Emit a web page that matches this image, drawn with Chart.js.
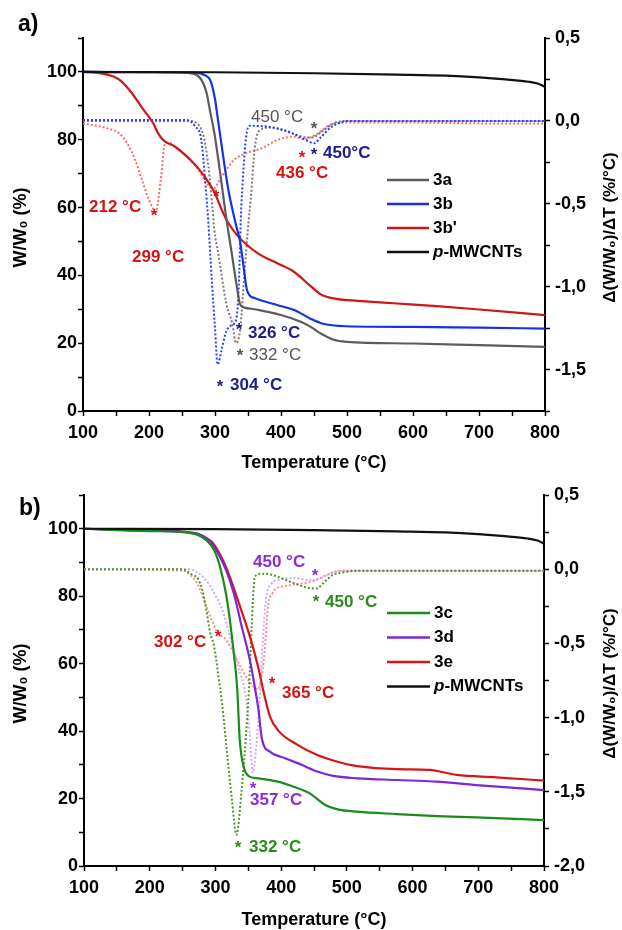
<!DOCTYPE html>
<html><head><meta charset="utf-8">
<script src="https://cdn.jsdelivr.net/npm/chart.js@4.4.0/dist/chart.umd.min.js"></script>
<style>
html,body{margin:0;padding:0;background:#fff;}
#wrap{position:relative;width:622px;height:930px;background:#fff;}
canvas{position:absolute;left:0;}
#ca{top:0;} #cb{top:465px;}
</style></head><body>
<div id="wrap"><canvas id="ca" width="622" height="480" style="width:622px;height:480px"></canvas><canvas id="cb" width="622" height="465" style="width:622px;height:465px"></canvas></div>
<script>
// ---------- DATA ----------
// p-MWCNTs (same sample in both panels)
const pT = [100,300,450,576,650,700,740,775,790,800];
const pW = [100,99.9,99.6,99.2,98.9,98.4,97.8,97.1,96.5,95.6];

// Panel a: TGA (W/W0 %)
const aT3a = [100,200,250,270,280,287,293,299,308,317,325,332,338,345,360,400,430,445,460,480,500,600,700,800];
const aW3a = [100,99.9,99.8,99.3,97.5,94,88,82,70,57,47,38,31.5,30.5,30,28.3,26.3,24.8,22.9,21,20.4,19.9,19.4,18.9];
const aT3b = [100,200,270,285,293,300,303,311,320,328,333,338,343,348,353,360,395,420,444,462,498,600,700,800];
const aW3b = [100,99.9,99.8,99,97.5,92,88,77,65.5,58,54,50,43,36,34,33.3,31.2,29.8,27.3,25.8,25,24.8,24.6,24.3];
const aT3bp = [100,120,137,155,173,191,206,215,224,239,263,281,299,311,320,335,365,395,420,444,462,486,516,576,636,696,800];
const aW3bp = [100,99.8,99.2,97.7,94,89,85,81.5,79.5,78,74,70,64.5,59,55.5,51.5,46.5,43.5,41,37,34.2,33,32.5,31.7,30.9,30,28.3];
// Panel a: DTG (%/°C)
const aTd3a = [100,200,260,275,284,290,296,299,305,317,326,332,338,345,351,354,360,366,384,408,432,447,462,480,498,600,700,800];
const aD3a  = [0,0,0,-0.024,-0.114,-0.276,-0.518,-0.66,-0.80,-1.10,-1.22,-1.34,-1.26,-0.90,-0.60,-0.48,-0.175,-0.064,-0.04,-0.064,-0.095,-0.10,-0.064,-0.014,0,0,0,0];
const aTd3b = [100,200,257,270,279,285,290,295,300,304,310,317,326,332,336,339,343,347,352,360,400,420,440,450,460,475,490,500,600,800];
const aD3b  = [0.005,0.005,0.005,-0.034,-0.11,-0.356,-0.62,-0.95,-1.25,-1.47,-1.38,-1.27,-1.23,-1.2,-1.0,-0.6,-0.3,-0.1,-0.03,-0.03,-0.05,-0.08,-0.12,-0.135,-0.10,-0.04,-0.01,0,0,0];
const aTd3bp = [100,137,155,167,179,191,200,205,210,218,224,230,239,257,275,287,299,305,317,329,347,371,395,420,432,441,456,474,498,600,700,800];
const aD3bp  = [-0.015,-0.045,-0.075,-0.135,-0.235,-0.376,-0.477,-0.52,-0.55,-0.35,-0.14,-0.13,-0.155,-0.215,-0.296,-0.376,-0.406,-0.37,-0.296,-0.235,-0.195,-0.165,-0.114,-0.095,-0.11,-0.105,-0.075,-0.024,-0.01,-0.01,-0.015,-0.015];

// Panel b: TGA
const bT3c = [100,150,200,250,274,286,298,307,316,322,328,333,337,343,352,365,395,419,443,467,486,516,576,637,697,800];
const bW3c = [100,99.6,99.3,99,98.1,96.6,93.7,88.7,80.8,72.9,63,53,37.4,29.4,26.5,26,25,23.5,21.6,18.1,16.8,16.1,15.4,14.8,14.4,13.6];
const bT3d = [100,150,200,250,274,286,298,316,328,340,352.5,361.5,365,371,383,407,431,455,479,516,576,637,697,800];
const bW3d = [100,99.7,99.4,99.1,98.4,97.2,94.7,87.8,80.8,71,61,51.2,47,37.4,33.9,31.9,30,28,26.7,26,25.5,25,24,22.5];
const bT3e = [100,150,200,250,274,286,298,316,334,352.5,365,374,383,395,425,455,486,516,576,625,667,727,800];
const bW3e = [100,99.7,99.4,99.1,98.4,97.3,95.3,88.7,78.9,68,59,51,44.3,40.3,35.9,32.9,30.9,29.6,28.7,28.5,27,26.3,25.3];
// Panel b: DTG
const bTd3c = [100,200,250,262,274,280,286,292,298,304,310,318,325,332,340,346,351,355,360,370,383,400,420,440,454,465,478,490,520,800];
const bD3c  = [0,0,0,-0.03,-0.07,-0.14,-0.27,-0.43,-0.52,-0.70,-0.9,-1.25,-1.55,-1.79,-1.48,-1.15,-0.81,-0.4,-0.05,-0.03,-0.035,-0.06,-0.095,-0.125,-0.13,-0.09,-0.04,-0.025,-0.01,-0.01];
const bTd3d = [100,260,275,290,298,310,322,334,346,352,357,362,367,372,377,385,398,420,445,460,480,500,800];
const bD3d  = [0,0,-0.03,-0.1,-0.16,-0.27,-0.45,-0.65,-0.85,-1.1,-1.37,-1.2,-0.9,-0.5,-0.2,-0.1,-0.07,-0.06,-0.075,-0.06,-0.02,-0.01,-0.01];
const bTd3e = [100,250,262,274,286,296,304,315,325,335,346,358,365,371,375,380,387,393,410,425,449,469,490,800];
const bD3e  = [0,-0.01,-0.04,-0.11,-0.25,-0.36,-0.43,-0.47,-0.54,-0.63,-0.72,-0.79,-0.81,-0.7,-0.55,-0.25,-0.16,-0.13,-0.11,-0.10,-0.08,-0.04,-0.01,-0.01];

// Axis tick ranges
const xMin = 100, xMax = 800;
const wMin = 0, wMax = 110;
const aDMin = -1.75, bDMin = -2.0, dMax = 0.5;

// ---------- helpers ----------
const FONT = '"Liberation Sans", Arial, sans-serif';
const pts = (xs, ys) => xs.map((x, i) => ({x: x, y: ys[i]}));
function solid(label, xs, ys, color) {
  return {label, data: pts(xs, ys), yAxisID: 'yL', borderColor: color, borderWidth: 2.2,
    pointRadius: 0, fill: false, cubicInterpolationMode: 'monotone'};
}
function dotted(label, xs, ys, color) {
  return {label, data: pts(xs, ys), yAxisID: 'yR', borderColor: color, borderWidth: 2,
    borderDash: [2, 2], pointRadius: 0, fill: false, cubicInterpolationMode: 'monotone'};
}

const deco = {
  id: 'deco',
  afterDraw(chart, args, o) {
    const ctx = chart.ctx, a = chart.chartArea;
    ctx.save();
    ctx.fillStyle = '#000';
    ctx.textBaseline = 'middle';
    // panel letter
    ctx.textAlign = 'left';
    ctx.font = 'bold 23px ' + FONT;
    ctx.fillText(o.letter, o.letterX, o.letterY);
    // axis titles
    ctx.font = 'bold 18px ' + FONT;
    ctx.textAlign = 'center';
    ctx.fillText('Temperature (°C)', (a.left + a.right) / 2, o.xTitleY);
    const cy = (a.top + a.bottom) / 2 + 3;
    ctx.save(); ctx.translate(21, cy); ctx.rotate(-Math.PI / 2);
    ctx.fillText('W/W\u2080 (%)', 0, 0); ctx.restore();
    ctx.save(); ctx.translate(610, cy); ctx.rotate(-Math.PI / 2);
    ctx.font = 'bold 17px ' + FONT;
    ctx.fillText('\u0394(W/W\u2080)/\u0394T (%/°C)', 0, 0); ctx.restore();
    // legend
    ctx.font = 'bold 17px ' + FONT;
    ctx.textAlign = 'left';
    o.legend.forEach((it, i) => {
      const y = o.legY + i * o.legDy;
      ctx.strokeStyle = it.color; ctx.lineWidth = 2.6; ctx.setLineDash([]);
      ctx.beginPath(); ctx.moveTo(o.legX1, y); ctx.lineTo(o.legX2, y); ctx.stroke();
      ctx.fillStyle = '#000';
      if (it.label.startsWith('p-')) {
        ctx.font = 'italic bold 17px ' + FONT;
        ctx.fillText('p', o.legX2 + 4, y);
        const w = ctx.measureText('p').width;
        ctx.font = 'bold 17px ' + FONT;
        ctx.fillText(it.label.slice(1), o.legX2 + 4 + w, y);
      } else {
        ctx.fillText(it.label, o.legX2 + 4, y);
      }
    });
    // annotations
    o.notes.forEach(n => {
      ctx.fillStyle = n.c;
      ctx.font = (n.w || 'bold') + ' 17px ' + FONT;
      if (n.t === '*') { ctx.textAlign = 'center'; ctx.fillText('*', n.x, n.y + 4); }
      else { ctx.textAlign = 'left'; ctx.fillText(n.t, n.x, n.y); }
    });
    ctx.restore();
  }
};

function makeOptions(cfg) {
  const tickFont = {family: FONT, size: 18, weight: 'bold'};
  return {
    responsive: false, animation: false, devicePixelRatio: 1,
    layout: {padding: {top: cfg.top, left: 0, right: 0, bottom: 0}},
    plugins: {legend: {display: false}, tooltip: {enabled: false}, deco: cfg.deco},
    scales: {
      x: {type: 'linear', min: xMin, max: xMax,
        afterFit: s => { s.height = cfg.xH; },
        ticks: {stepSize: 50, autoSkip: false, maxRotation: 0, color: '#000', font: tickFont, padding: 6,
          callback: v => (v % 100 === 0 ? String(v) : '')},
        grid: {drawOnChartArea: false, drawTicks: true, tickLength: 5, tickWidth: 1.5, tickColor: '#000'},
        border: {display: true, color: '#000', width: 2}},
      yL: {type: 'linear', position: 'left', min: wMin, max: wMax,
        afterFit: s => { s.width = cfg.lW; },
        ticks: {stepSize: 10, autoSkip: false, color: '#000', font: tickFont, padding: 1,
          callback: v => (v % 20 === 0 ? String(v) : '')},
        grid: {drawOnChartArea: false, drawTicks: true, tickLength: 5, tickWidth: 1.5, tickColor: '#000'},
        border: {display: true, color: '#000', width: 2}},
      yR: {type: 'linear', position: 'right', min: cfg.dMin, max: dMax,
        afterFit: s => { s.width = cfg.rW; },
        ticks: {stepSize: 0.25, autoSkip: false, color: '#000', font: tickFont, padding: 5,
          callback: v => {
            const r = Math.round(v * 2);
            if (Math.abs(v * 2 - r) > 1e-6) return '';
            const s = (r / 2).toFixed(1).replace('.', ',');
            return s === '-0,0' ? '0,0' : s;
          }},
        grid: {drawOnChartArea: false, drawTicks: true, tickLength: 5, tickWidth: 1.5, tickColor: '#000'},
        border: {display: true, color: '#000', width: 2}}
    }
  };
}

const RED = '#d41414', NAVY = '#1c1c8f', GRAY = '#555555';
const PURPLE = '#8a2be2', GREEN = '#2b8a1c';

// ---------- Panel a ----------
new Chart(document.getElementById('ca'), {
  type: 'line',
  data: {datasets: [
    solid('p-MWCNTs', pT, pW, '#111111'),
    solid('3b', aT3b, aW3b, '#1433e8'),
    solid('3a', aT3a, aW3a, '#5c5c5c'),
    solid("3b'", aT3bp, aW3bp, '#d01515'),
    dotted('3b DTG', aTd3b, aD3b, '#2244ff'),
    dotted('3a DTG', aTd3a, aD3a, '#7a7a7a'),
    dotted("3b' DTG", aTd3bp, aD3bp, '#ff6a6a')
  ]},
  options: makeOptions({top: 38, xH: 69, lW: 83, rW: 77, dMin: aDMin, deco: {
    letter: 'a)', letterX: 18, letterY: 25, xTitleY: 463,
    legX1: 387, legX2: 429, legY: 180, legDy: 24,
    legend: [{label: '3a', color: '#5c5c5c'}, {label: '3b', color: '#1433e8'},
             {label: "3b'", color: '#d01515'}, {label: 'p-MWCNTs', color: '#111111'}],
    notes: [
      {t: '450 °C', x: 251, y: 117, c: GRAY, w: 'normal'}, {t: '*', x: 314, y: 125, c: GRAY},
      {t: '*', x: 314, y: 151, c: NAVY}, {t: '450°C', x: 323, y: 153, c: NAVY},
      {t: '436 °C', x: 276, y: 173, c: RED}, {t: '*', x: 302, y: 154, c: RED},
      {t: '212 °C', x: 89, y: 207, c: RED}, {t: '*', x: 154, y: 212, c: RED},
      {t: '299 °C', x: 132, y: 257, c: RED}, {t: '*', x: 216, y: 193, c: RED},
      {t: '326 °C', x: 248, y: 333, c: NAVY}, {t: '*', x: 239, y: 326, c: NAVY},
      {t: '*', x: 240, y: 352, c: GRAY}, {t: '332 °C', x: 249, y: 355, c: GRAY, w: 'normal'},
      {t: '*', x: 220, y: 383, c: NAVY}, {t: '304 °C', x: 230, y: 385, c: NAVY}
    ]}})
  , plugins: [deco]
});

// ---------- Panel b ----------
new Chart(document.getElementById('cb'), {
  type: 'line',
  data: {datasets: [
    solid('p-MWCNTs', pT, pW, '#111111'),
    solid('3c', bT3c, bW3c, '#1a8c1a'),
    solid('3d', bT3d, bW3d, '#7a28d8'),
    solid('3e', bT3e, bW3e, '#d81414'),
    dotted('3c DTG', bTd3c, bD3c, '#4a9a1f'),
    dotted('3d DTG', bTd3d, bD3d, '#d6a6ff'),
    dotted('3e DTG', bTd3e, bD3e, '#ff8a8a')
  ]},
  options: makeOptions({top: 30, xH: 64, lW: 84, rW: 78, dMin: bDMin, deco: {
    letter: 'b)', letterX: 19, letterY: 44, xTitleY: 455,
    legX1: 387, legX2: 430, legY: 148, legDy: 24.5,
    legend: [{label: '3c', color: '#1a8c1a'}, {label: '3d', color: '#7a28d8'},
             {label: '3e', color: '#d81414'}, {label: 'p-MWCNTs', color: '#111111'}],
    notes: [
      {t: '450 °C', x: 253, y: 97, c: PURPLE}, {t: '*', x: 315, y: 107, c: PURPLE},
      {t: '*', x: 316, y: 133, c: GREEN}, {t: '450 °C', x: 325, y: 137, c: GREEN},
      {t: '302 °C', x: 154, y: 177, c: RED}, {t: '*', x: 218, y: 168, c: RED},
      {t: '*', x: 272, y: 215, c: RED}, {t: '365 °C', x: 282, y: 228, c: RED},
      {t: '*', x: 253, y: 320, c: PURPLE}, {t: '357 °C', x: 250, y: 335, c: PURPLE},
      {t: '*', x: 238, y: 379, c: GREEN}, {t: '332 °C', x: 249, y: 382, c: GREEN}
    ]}})
  , plugins: [deco]
});
</script>
</body></html>
